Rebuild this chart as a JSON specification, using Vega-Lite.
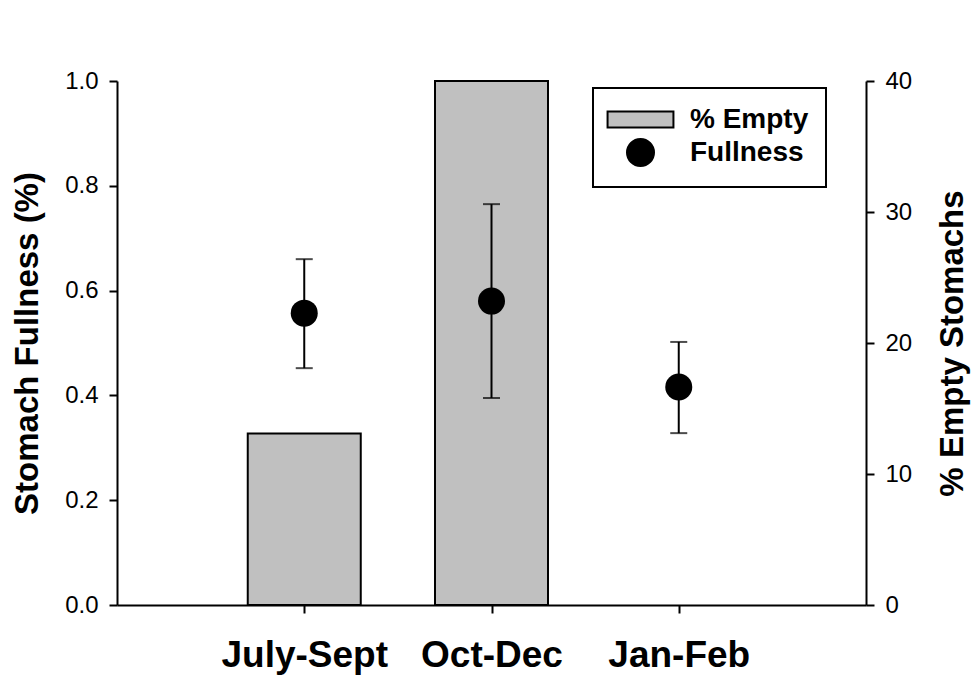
{
  "$schema": "https://vega.github.io/schema/vega-lite/v6.json",
  "autosize": "none",
  "width": 749,
  "height": 524,
  "padding": {"left": 117, "top": 81, "right": 110, "bottom": 95},
  "background": "white",
  "config": {
    "view": {"stroke": null},
    "font": "Liberation Sans",
    "axis": {
      "domainColor": "black", "domainWidth": 2,
      "tickColor": "black", "tickWidth": 2, "tickSize": 8,
      "grid": false, "labelColor": "black", "titleColor": "black",
      "labelFont": "Liberation Sans", "titleFont": "Liberation Sans"
    },
    "legend": {
      "orient": "none", "legendX": 476, "legendY": 7,
      "labelFont": "Liberation Sans", "labelFontSize": 28, "labelFontWeight": "bold", "labelColor": "black",
      "symbolSize": 729, "strokeColor": "black", "strokeWidth": 2, "fillColor": "white",
      "padding": 17, "symbolOffset": 16, "labelOffset": 35, "rowPadding": 1,
      "symbolStrokeColor": "black", "symbolStrokeWidth": 2
    }
  },
  "data": {"values": [
    {"period": "July-Sept", "empty": 13.1, "fullness": 0.557, "lo": 0.452, "hi": 0.660},
    {"period": "Oct-Dec", "empty": 40, "fullness": 0.580, "lo": 0.395, "hi": 0.765},
    {"period": "Jan-Feb", "empty": null, "fullness": 0.416, "lo": 0.328, "hi": 0.502}
  ]},
  "encoding": {
    "x": {
      "field": "period", "type": "nominal", "sort": null,
      "scale": {"type": "point", "padding": 1},
      "axis": {"title": null, "labelAngle": 0, "labelFontSize": 37, "labelFontWeight": "bold", "labelPadding": 24}
    }
  },
  "layer": [
    {
      "mark": {"type": "bar", "width": 113, "stroke": "black", "strokeWidth": 2},
      "encoding": {
        "y": {
          "field": "empty", "type": "quantitative",
          "scale": {"domain": [0, 40], "nice": false},
          "axis": {"orient": "right", "values": [0, 10, 20, 30, 40], "title": "% Empty Stomachs",
                   "titleFontSize": 33, "titleFontWeight": "bold", "titleAngle": 270, "titlePadding": 58,
                   "labelFontSize": 24, "labelPadding": 11}
        },
        "fill": {"datum": "% Empty", "type": "nominal",
                 "scale": {"domain": ["% Empty", "Fullness"], "range": ["#c0c0c0", "black"]},
                 "legend": {"title": null}}
      }
    },
    {
      "layer": [
        {
          "mark": {"type": "rule", "color": "black", "strokeWidth": 2},
          "encoding": {
            "y": {"field": "lo", "type": "quantitative", "title": "Stomach Fullness (%)",
                  "scale": {"domain": [0, 1], "nice": false},
                  "axis": {"orient": "left", "values": [0, 0.2, 0.4, 0.6, 0.8, 1.0], "format": ".1f",
                           "titleFontSize": 33, "titleFontWeight": "bold", "titlePadding": 20,
                           "labelFontSize": 24, "labelPadding": 11}},
            "y2": {"field": "hi"}
          }
        },
        {
          "mark": {"type": "tick", "color": "black", "thickness": 2, "size": 17, "orient": "horizontal"},
          "encoding": {"y": {"field": "lo", "type": "quantitative", "title": "Stomach Fullness (%)"}}
        },
        {
          "mark": {"type": "tick", "color": "black", "thickness": 2, "size": 17, "orient": "horizontal"},
          "encoding": {"y": {"field": "hi", "type": "quantitative", "title": "Stomach Fullness (%)"}}
        },
        {
          "mark": {"type": "point", "filled": true, "opacity": 1, "size": 729},
          "encoding": {
            "y": {"field": "fullness", "type": "quantitative", "title": "Stomach Fullness (%)"},
            "fill": {"datum": "Fullness", "type": "nominal", "legend": {"title": null}},
            "shape": {"datum": "Fullness", "type": "nominal",
                      "scale": {"domain": ["% Empty", "Fullness"], "range": ["M-2.44,-0.59H2.44V0.59H-2.44Z", "circle"]},
                      "legend": {"title": null}}
          }
        }
      ]
    }
  ],
  "resolve": {"scale": {"y": "independent"}}
}
